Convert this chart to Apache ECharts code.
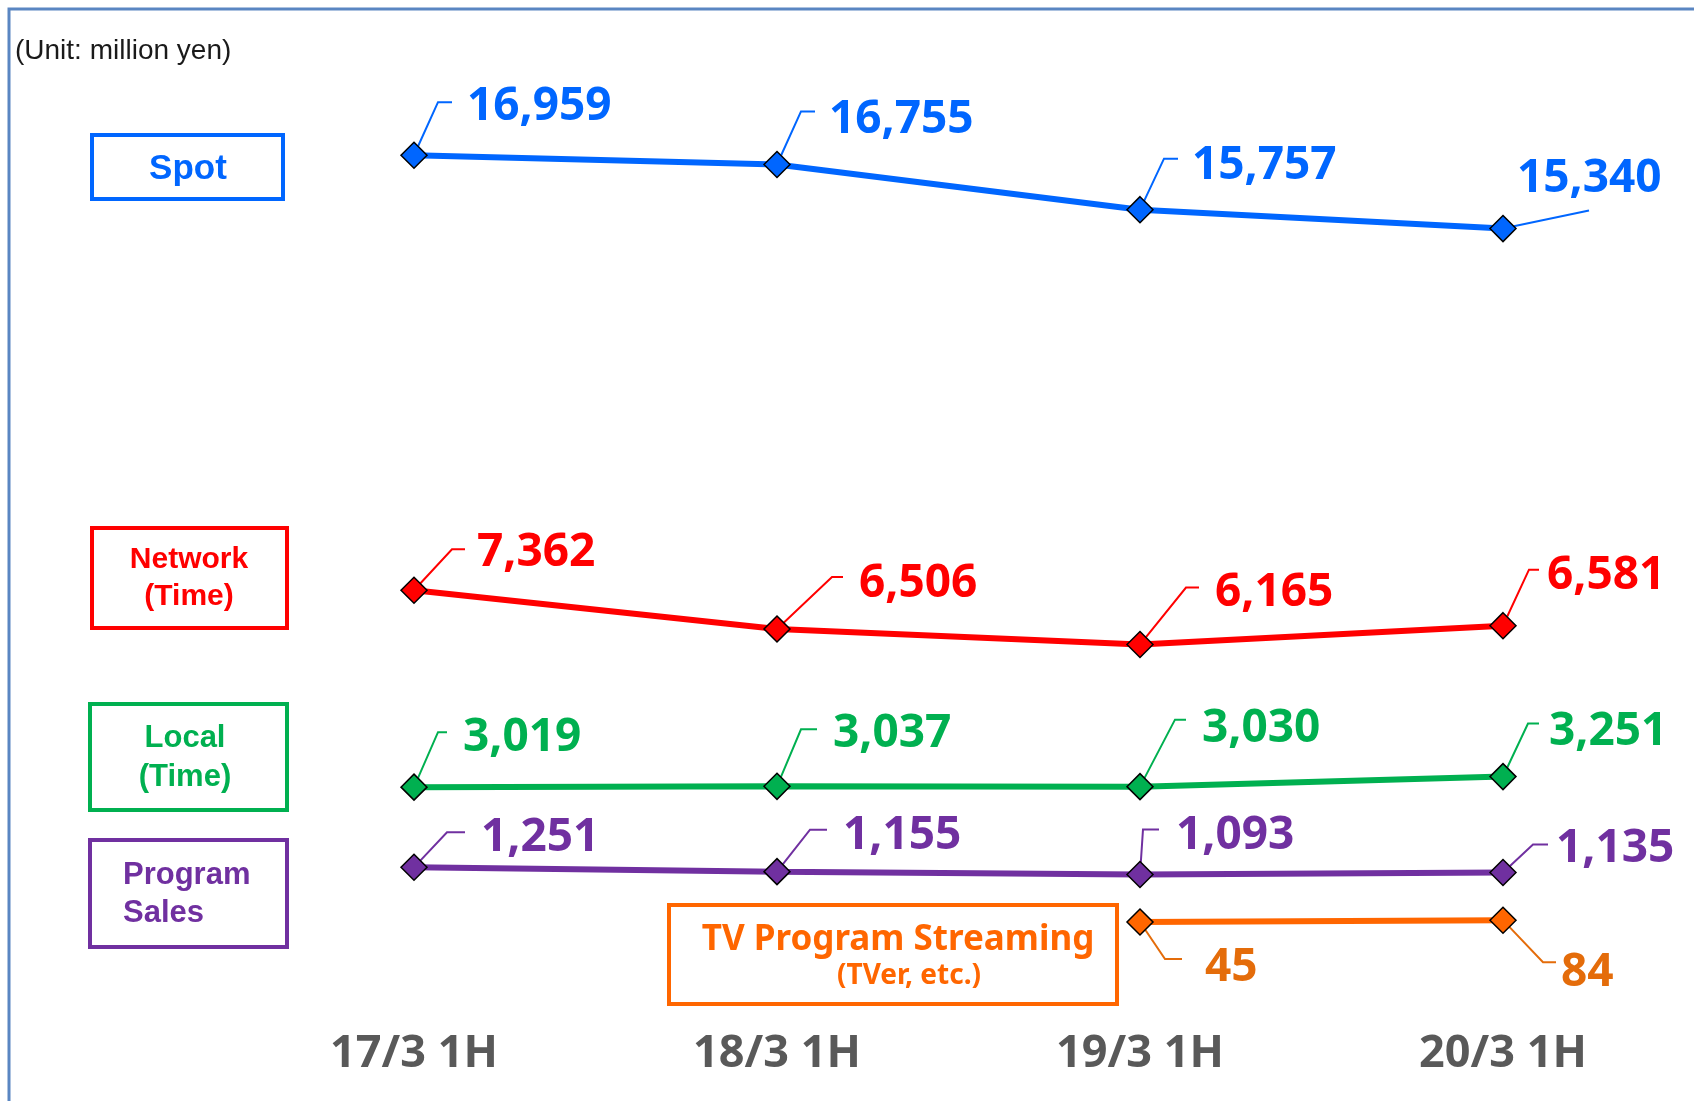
<!DOCTYPE html>
<html>
<head>
<meta charset="utf-8">
<title>Revenue by category, 1H</title>
<script src="https://cdn.jsdelivr.net/npm/echarts@6/dist/echarts.min.js"></script>
<style>
    html, body { margin: 0; padding: 0; background: #fff; }
    #main { width: 1694px; height: 1101px; }
</style>
</head>
<body>
<div id="main"></div>
<script>
// data (million yen)
var categories = ["17/3 1H", "18/3 1H", "19/3 1H", "20/3 1H"];
var spotValues = [16959, 16755, 15757, 15340];
var networkValues = [7362, 6506, 6165, 6581];
var localValues = [3019, 3037, 3030, 3251];
var programSalesValues = [1251, 1155, 1093, 1135];
var streamingValues = ["-", "-", 45, 84];

// label placement relative to its marker (px):
// [label dx, label dy, bend dx, bend dy, end dx]  (end dx null = straight leader)
var labelPlaces = {
    spot: [[53, -52, 24, -53, 38], [52, -49, 24, -53, 38], [52, -48, 24, -51, 38], [14, -54, 86, -18, null]],
    network: [[63, -41, 38, -41, 51], [82, -49, 55, -52, 66], [75, -56, 46, -57, 59], [44, -54, 26, -56, 36]],
    local: [[49, -53, 24, -55, 33], [56, -56, 24, -57, 40], [62, -62, 35, -67, 46], [46, -49, 25, -53, 36]],
    program: [[67, -33, 33, -35, 51], [66, -40, 33, -42, 50], [36, -43, 3, -45, 19], [53, -28, 30, -28, 45]],
    streaming: [null, null, [65, 42, 25, 37, 42], [58, 49, 40, 42, 53]]
};

var NUM_FONT = "Noto Sans";
var BOX_FONT = "Liberation Sans";
var SYMBOL = 26;
var NUDGE = 4; // Noto Sans sits a little high at verticalAlign middle

var fmt = function(p) {
    return Number(p.value).toLocaleString("en-US");
};

var makeSeries = function(name, values, color, labelColor, places) {
    return {
        name: name,
        type: "line",
        z: 3,
        data: values,
        symbol: "diamond",
        symbolSize: SYMBOL,
        lineStyle: { color: color, width: 6 },
        itemStyle: { color: color, borderColor: "#000", borderWidth: 1.5 },
        label: {
            show: true,
            color: labelColor,
            fontFamily: NUM_FONT,
            fontWeight: "bold",
            fontSize: 46,
            formatter: fmt
        },
        labelLayout: function(p) {
            var o = places[p.dataIndex];
            return {
                x: p.rect.x + p.rect.width / 2 + o[0],
                y: p.rect.y + p.rect.height / 2 + o[1] + NUDGE,
                align: "left",
                verticalAlign: "middle"
            };
        },
        emphasis: { disabled: true }
    };
};

// leader lines: drawn from each point's position on the axes
var makeLeaders = function(values, color, places) {
    return {
        type: "custom",
        z: 2,
        silent: true,
        data: values.map(function(v, i) { return [i, v]; }),
        encode: { x: 0, y: 1 },
        renderItem: function(params, api) {
            var o = places[params.dataIndex];
            if (!o || isNaN(api.value(1))) return null;
            var c = api.coord([api.value(0), api.value(1)]);
            var vx = o[2], vy = o[3];
            var t = (SYMBOL / 2) / (Math.abs(vx) + Math.abs(vy));
            var pts = [[c[0] + vx * t, c[1] + vy * t], [c[0] + vx, c[1] + vy]];
            if (o[4] != null) pts.push([c[0] + o[4], c[1] + vy]);
            return {
                type: "polyline",
                shape: { points: pts },
                style: { stroke: color, lineWidth: 2, fill: null }
            };
        }
    };
};

var box = function(x, y, w, h, color) {
    return {
        type: "rect",
        silent: true,
        shape: { x: x, y: y, width: w, height: h },
        style: { fill: "#fff", stroke: color, lineWidth: 4 }
    };
};

var boxText = function(x, y, text, color, size, family, align, lineHeight) {
    return {
        type: "text",
        silent: true,
        x: x,
        y: y,
        style: {
            text: text,
            fill: color,
            fontFamily: family,
            fontWeight: "bold",
            fontSize: size,
            lineHeight: lineHeight || size,
            align: align || "center",
            verticalAlign: "middle"
        }
    };
};

var chart = echarts.init(document.getElementById("main"));

chart.setOption({
    animation: false,
    backgroundColor: "#fff",
    grid: { left: 414, right: 191, top: 108, bottom: 177 },
    xAxis: {
        type: "category",
        data: categories,
        boundaryGap: false,
        axisLine: { show: false },
        axisTick: { show: false },
        splitLine: { show: false },
        axisLabel: {
            color: "#595959",
            fontFamily: NUM_FONT,
            fontWeight: "bold",
            fontSize: 45,
            margin: 108
        }
    },
    yAxis: {
        type: "value",
        min: 0,
        max: 18000,
        show: false
    },
    graphic: [
        {
            type: "rect",
            silent: true,
            shape: { x: 9, y: 9, width: 1800, height: 1200 },
            style: { fill: "none", stroke: "#5a86c2", lineWidth: 3 }
        },
        {
            type: "text",
            silent: true,
            x: 15,
            y: 51,
            style: {
                text: "(Unit: million yen)",
                fill: "#1a1a1a",
                fontFamily: BOX_FONT,
                fontSize: 28,
                verticalAlign: "middle"
            }
        },
        box(92, 135, 191, 64, "#0066ff"),
        boxText(188, 169, "Spot", "#0066ff", 35, BOX_FONT),
        box(92, 528, 195, 100, "#ff0000"),
        boxText(189, 578, "Network\n(Time)", "#ff0000", 30, BOX_FONT, "center", 37),
        box(90, 704, 197, 106, "#00b050"),
        boxText(185, 758, "Local\n(Time)", "#00b050", 31, BOX_FONT, "center", 39),
        box(90, 840, 197, 107, "#7030a0"),
        boxText(123, 894, "Program\nSales", "#7030a0", 31, BOX_FONT, "left", 38),
        box(669, 905, 448, 99, "#ff6600"),
        boxText(898, 940, "TV Program Streaming", "#ff6600", 35, NUM_FONT),
        boxText(909, 976, "(TVer, etc.)", "#ff6600", 28, NUM_FONT)
    ],
    series: [
        makeSeries("Spot", spotValues, "#0066ff", "#0066ff", labelPlaces.spot),
        makeSeries("Network (Time)", networkValues, "#ff0000", "#ff0000", labelPlaces.network),
        makeSeries("Local (Time)", localValues, "#00b050", "#00b050", labelPlaces.local),
        makeSeries("Program Sales", programSalesValues, "#7030a0", "#7030a0", labelPlaces.program),
        makeSeries("TV Program Streaming", streamingValues, "#ff6600", "#e46c0a", labelPlaces.streaming),
        makeLeaders(spotValues, "#0066ff", labelPlaces.spot),
        makeLeaders(networkValues, "#ff0000", labelPlaces.network),
        makeLeaders(localValues, "#00b050", labelPlaces.local),
        makeLeaders(programSalesValues, "#7030a0", labelPlaces.program),
        makeLeaders(streamingValues, "#e46c0a", labelPlaces.streaming)
    ]
});

window.addEventListener("resize", chart.resize);
</script>
</body>
</html>
